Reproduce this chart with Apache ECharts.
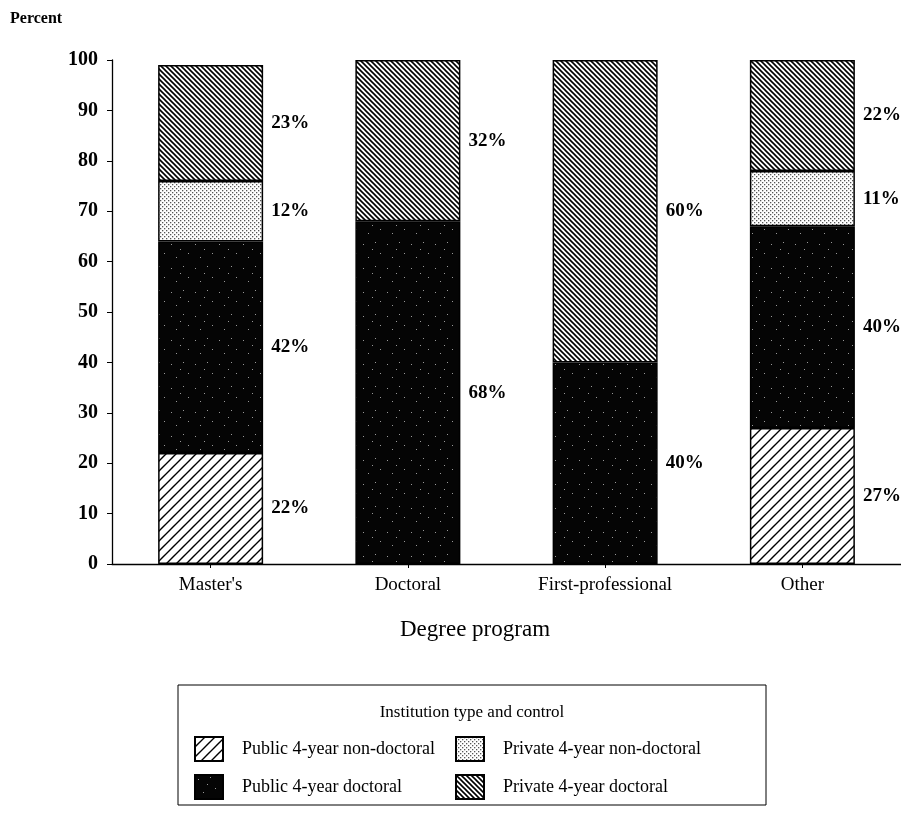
<!DOCTYPE html>
<html>
<head>
<meta charset="utf-8">
<script src="https://cdn.jsdelivr.net/npm/echarts@6/dist/echarts.min.js"></script>
<style>
  html, body { margin: 0; padding: 0; background: #fff; }
  #chart { width: 901px; height: 820px; }
</style>
</head>
<body>
<div id="chart"></div>
<script>
// degree programs
const categories = ["Master's", 'Doctoral', 'First-professional', 'Other']
// percent of students by institution type and control
const publicNonDoctoral = [22, 0, 0, 27]
const publicDoctoral = [42, 68, 40, 40]
const privateNonDoctoral = [12, 0, 0, 11]
const privateDoctoral = [23, 32, 60, 22]
const yTicks = [0, 10, 20, 30, 40, 50, 60, 70, 80, 90, 100]

const serif = '"Liberation Serif", "DejaVu Serif", serif'

// hatch / stipple textures drawn on small canvases
function makeTile(size, draw) {
  const c = document.createElement('canvas')
  c.width = size
  c.height = size
  const ctx = c.getContext('2d')
  draw(ctx, size)
  return { image: c, repeat: 'repeat' }
}

// "/" wide hatch
const hatchWide = makeTile(10, (ctx, s) => {
  ctx.fillStyle = '#fff'
  ctx.fillRect(0, 0, s, s)
  ctx.strokeStyle = '#000'
  ctx.lineWidth = 1.4
  ctx.beginPath()
  ctx.moveTo(-1, s + 1); ctx.lineTo(s + 1, -1)
  ctx.moveTo(-1, 1); ctx.lineTo(1, -1)
  ctx.moveTo(s - 1, s + 1); ctx.lineTo(s + 1, s - 1)
  ctx.stroke()
})

// "\" dense hatch
const hatchDense = makeTile(5, (ctx, s) => {
  ctx.fillStyle = '#fff'
  ctx.fillRect(0, 0, s, s)
  ctx.strokeStyle = '#000'
  ctx.lineWidth = 1.6
  ctx.beginPath()
  ctx.moveTo(-1, -1); ctx.lineTo(s + 1, s + 1)
  ctx.moveTo(s - 1, -1); ctx.lineTo(s + 1, 1)
  ctx.moveTo(-1, s - 1); ctx.lineTo(1, s + 1)
  ctx.stroke()
})

// light stipple
const stipple = makeTile(4, (ctx, s) => {
  ctx.fillStyle = '#fff'
  ctx.fillRect(0, 0, s, s)
  ctx.fillStyle = '#555'
  ctx.fillRect(0, 0, 1.3, 1.3)
  ctx.fillRect(2, 2, 1.3, 1.3)
})

// black with sparse specks
const darkSpeck = makeTile(24, (ctx, s) => {
  ctx.fillStyle = '#050505'
  ctx.fillRect(0, 0, s, s)
  ctx.fillStyle = '#999'
  const specks = [[3, 4], [15, 2], [20, 13], [8, 17], [12, 9]]
  specks.forEach(p => ctx.fillRect(p[0], p[1], 1, 1))
})

const chartInstance = echarts.init(document.getElementById('chart'))

function makeSeries(name, values, fill) {
  return {
    name: name,
    type: 'bar',
    stack: 'total',
    barWidth: 105,
    data: values.map(v => (v === 0 ? '-' : v)),
    itemStyle: {
      color: fill,
      borderColor: '#000',
      borderWidth: 1.5
    },
    label: {
      show: true,
      position: 'right',
      distance: 8,
      formatter: p => p.value + '%',
      color: '#000',
      fontFamily: serif,
      fontWeight: 'bold',
      fontSize: 19
    }
  }
}

const legendText = {
  color: '#000',
  fontFamily: serif,
  fontSize: 18,
  padding: [0, 0, 0, 14]
}

const option = {
  backgroundColor: '#fff',
  animation: false,
  grid: { left: 112, right: 0, top: 60, bottom: 256 },
  xAxis: {
    type: 'category',
    data: categories,
    axisLine: { lineStyle: { color: '#000', width: 1.3 } },
    axisTick: { show: true, alignWithLabel: true, length: 4, lineStyle: { color: '#000' } },
    axisLabel: { color: '#000', fontFamily: serif, fontSize: 19, margin: 12 }
  },
  yAxis: {
    type: 'value',
    min: yTicks[0],
    max: yTicks[yTicks.length - 1],
    interval: yTicks[1] - yTicks[0],
    splitLine: { show: false },
    axisLine: { show: true, lineStyle: { color: '#000', width: 1.3 } },
    axisTick: { show: true, length: 5, lineStyle: { color: '#000' } },
    axisLabel: { color: '#000', fontFamily: serif, fontWeight: 'bold', fontSize: 20, margin: 14 }
  },
  legend: [
    {
      orient: 'vertical',
      left: 189,
      top: 731,
      itemWidth: 28,
      itemHeight: 24,
      itemGap: 12,
      icon: 'rect',
      data: ['Public 4-year non-doctoral', 'Public 4-year doctoral'],
      textStyle: legendText
    },
    {
      orient: 'vertical',
      left: 450,
      top: 731,
      itemWidth: 28,
      itemHeight: 24,
      itemGap: 12,
      icon: 'rect',
      data: ['Private 4-year non-doctoral', 'Private 4-year doctoral'],
      textStyle: legendText
    }
  ],
  graphic: [
    {
      type: 'text',
      left: 10,
      top: 11,
      style: { text: 'Percent', fill: '#000', font: 'bold 16px ' + serif }
    },
    {
      type: 'text',
      x: 475,
      y: 630,
      style: {
        text: 'Degree program',
        fill: '#000',
        font: '23px ' + serif,
        textAlign: 'center',
        textVerticalAlign: 'middle'
      }
    },
    {
      type: 'rect',
      shape: { x: 178, y: 685, width: 588, height: 120 },
      style: { fill: 'none', stroke: '#000', lineWidth: 1 }
    },
    {
      type: 'text',
      x: 472,
      y: 713,
      style: {
        text: 'Institution type and control',
        fill: '#000',
        font: '17px ' + serif,
        textAlign: 'center',
        textVerticalAlign: 'middle'
      }
    }
  ],
  series: [
    makeSeries('Public 4-year non-doctoral', publicNonDoctoral, hatchWide),
    makeSeries('Public 4-year doctoral', publicDoctoral, darkSpeck),
    makeSeries('Private 4-year non-doctoral', privateNonDoctoral, stipple),
    makeSeries('Private 4-year doctoral', privateDoctoral, hatchDense)
  ]
}

chartInstance.setOption(option)
</script>
</body>
</html>
